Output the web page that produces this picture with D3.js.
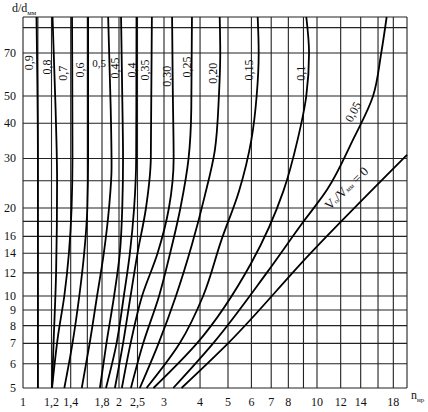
<!DOCTYPE html>
<html>
<head>
<meta charset="utf-8">
<script src="https://cdn.jsdelivr.net/npm/d3@7"></script>
<style>
  body { margin: 0; background: #fff; }
  svg text { font-family: "Liberation Serif", "DejaVu Serif", serif; fill: #111; }
</style>
</head>
<body>
<div id="chart"></div>
<script>
// grid lines and tick labels
const xGrid = [1, 1.1, 1.2, 1.4, 1.6, 1.8, 2, 2.5, 3, 4, 5, 6, 7, 8, 9, 10, 12, 14, 16, 18, 20];
const xTicks = [1, 1.2, 1.4, 1.8, 2, 2.5, 3, 4, 5, 6, 7, 8, 10, 12, 14, 18];
const yGrid = [5, 6, 7, 8, 9, 10, 12, 14, 16, 18, 20, 25, 30, 40, 50, 70, 90, 100];
const yTicks = [5, 6, 7, 8, 9, 10, 12, 14, 16, 20, 30, 40, 50, 70];

// curves, points are [n_нр, d/d_мм]
const v090 = [[1.1, 5], [1.1, 30], [1.09, 100]];
const v080 = [[1.205, 5], [1.22, 7], [1.245, 12], [1.255, 25], [1.24, 45], [1.21, 100]];
const v070 = [[1.205, 5], [1.267, 7.5], [1.33, 10], [1.38, 14], [1.41, 20], [1.42, 30], [1.415, 100]];
const v060 = [[1.33, 5], [1.42, 7], [1.5, 10], [1.56, 14], [1.6, 20], [1.61, 30], [1.61, 100]];
const v050 = [[1.53, 5], [1.63, 7], [1.73, 10], [1.82, 14], [1.88, 20], [1.91, 28], [1.9, 45], [1.87, 100]];
const v045 = [[1.77, 5], [1.85, 7], [1.94, 10], [2.02, 14], [2.08, 20], [2.1, 30], [2.08, 50], [2.05, 100]];
const v040 = [[1.845, 5], [1.97, 7], [2.12, 10], [2.28, 14], [2.4, 20], [2.46, 30], [2.47, 100]];
const v035 = [[1.95, 5], [2.1, 7], [2.3, 10], [2.5, 14], [2.65, 20], [2.74, 30], [2.76, 100]];
const v030 = [[2.07, 5], [2.3, 7], [2.58, 10], [2.87, 14], [3.12, 20], [3.24, 30], [3.22, 50], [3.2, 100]];
const v025 = [[2.31, 5], [2.6, 7], [2.9, 10], [3.15, 14], [3.42, 20], [3.65, 30], [3.73, 45], [3.75, 100]];
const v020 = [[2.54, 5], [2.89, 7], [3.3, 10], [3.75, 15], [4.15, 22], [4.5, 32], [4.65, 50], [4.7, 70], [4.68, 100]];
const v015 = [[2.66, 5], [3.4, 7], [4.1, 10], [4.74, 15.5], [5.45, 23], [6.0, 35], [6.25, 50], [6.35, 70], [6.3, 100]];
const v010 = [[2.79, 5], [3.9, 7], [6.0, 13], [7.7, 23], [8.6, 35], [9.2, 50], [9.4, 70], [9.2, 100]];
const v005 = [[3.23, 5], [4.44, 7], [6.76, 12], [8.9, 17.7], [10.8, 23.2], [13.2, 35], [15.4, 50], [16.4, 70], [17.1, 100]];
const v000 = [[3.45, 5], [5.0, 7], [9.5, 14], [20, 30.9]];

const curves = [v090, v080, v070, v060, v050, v045, v040, v035, v030, v025, v020, v015, v010, v005, v000];

// curve labels: text, n, d/d (written upright along the curves)
const labelText = ["0,9", "0,8", "0,7", "0,6", "0,45", "0,4", "0,35", "0,30", "0,25", "0,20", "0,15", "0,1"];
const labelN = [1.039, 1.166, 1.32, 1.51, 1.95, 2.33, 2.63, 3.07, 3.6, 4.44, 5.89, 8.82];
const labelD = [64.8, 62.7, 59.8, 61.3, 62.2, 61.3, 61.3, 58.4, 62.7, 59.8, 61.3, 59.8];

const W = 428, H = 412;

const svg = d3.select("#chart").append("svg")
    .attr("width", W)
    .attr("height", H);

// the scanned chart is not a clean log grid, so the log scales get a few knots
const x = d3.scaleLog()
    .domain([1, 1.2, 1.8, 2, 2.5, 3, 5, 10, 20])
    .range([23, 51.5, 102, 119, 137.5, 164, 228, 317, 407]);

const y = d3.scaleLog()
    .domain([5, 10, 20, 50, 70, 100])
    .range([388, 296, 208, 96, 53, 17]);

const fmt = d => String(d).replace(".", ",");

// grid
svg.append("g")
    .selectAll("line")
    .data(xGrid)
    .join("line")
    .attr("x1", d => x(d))
    .attr("x2", d => x(d))
    .attr("y1", y(5))
    .attr("y2", y(100))
    .attr("stroke", "#222")
    .attr("stroke-width", 1.1);

svg.append("g")
    .selectAll("line")
    .data(yGrid)
    .join("line")
    .attr("x1", x(1))
    .attr("x2", x(20))
    .attr("y1", d => y(d))
    .attr("y2", d => y(d))
    .attr("stroke", "#222")
    .attr("stroke-width", 1.1);

// tick labels
svg.append("g")
    .selectAll("text")
    .data(xTicks)
    .join("text")
    .attr("x", d => x(d))
    .attr("y", y(5) + 18)
    .attr("text-anchor", "middle")
    .attr("font-size", 12)
    .text(fmt);

svg.append("g")
    .selectAll("text")
    .data(yTicks)
    .join("text")
    .attr("x", x(1) - 7)
    .attr("y", d => y(d) + 4)
    .attr("text-anchor", "end")
    .attr("font-size", 12)
    .text(fmt);

// axis titles
const yt = svg.append("text")
    .attr("x", 12)
    .attr("y", 12)
    .attr("font-size", 12);
yt.append("tspan").text("d/d");
yt.append("tspan").attr("font-size", 7).attr("dy", 3).text("мм");

const xt = svg.append("text")
    .attr("x", 411)
    .attr("y", 399)
    .attr("font-size", 12);
xt.append("tspan").text("n");
xt.append("tspan").attr("font-size", 7).attr("dy", 3).text("нр");

// curves
const line = d3.line()
    .x(d => x(d[0]))
    .y(d => y(d[1]))
    .curve(d3.curveMonotoneY);

svg.append("g")
    .selectAll("path")
    .data(curves)
    .join("path")
    .attr("d", line)
    .attr("fill", "none")
    .attr("stroke", "#000")
    .attr("stroke-width", 1.8);

// curve labels
svg.append("g")
    .selectAll("text")
    .data(labelText)
    .join("text")
    .attr("transform", (d, i) => "translate(" + x(labelN[i]) + "," + y(labelD[i]) + ") rotate(-90)")
    .attr("text-anchor", "middle")
    .attr("dominant-baseline", "central")
    .attr("font-size", 12)
    .text(d => d);

// 0,5 is the only one written flat in the original
svg.append("text")
    .attr("x", x(1.76))
    .attr("y", y(64.8))
    .attr("text-anchor", "middle")
    .attr("dominant-baseline", "central")
    .attr("font-size", 11)
    .text("0,5");

svg.append("text")
    .attr("transform", "translate(" + x(13.2) + "," + y(43.9) + ") rotate(-62)")
    .attr("text-anchor", "middle")
    .attr("dominant-baseline", "central")
    .attr("font-size", 12)
    .text("0,05");

const v0 = svg.append("text")
    .attr("transform", "translate(" + x(12.5) + "," + y(23.6) + ") rotate(-44)")
    .attr("text-anchor", "middle")
    .attr("dominant-baseline", "central")
    .attr("font-size", 13);
v0.append("tspan").text("V");
v0.append("tspan").attr("font-size", 7).attr("dy", 3).text("о");
v0.append("tspan").attr("dy", -3).text("/V");
v0.append("tspan").attr("font-size", 7).attr("dy", 3).text("мм");
v0.append("tspan").attr("dy", -3).text(" = 0");
</script>
</body>
</html>
